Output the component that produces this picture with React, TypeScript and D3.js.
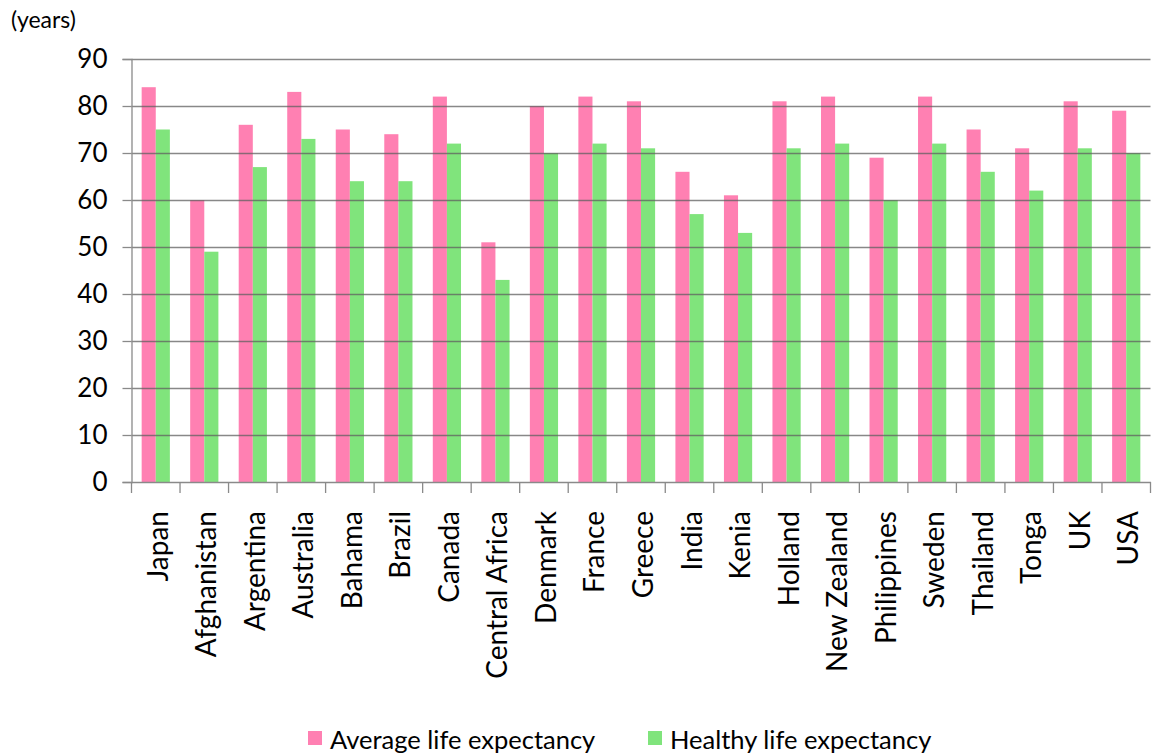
import React from "react";
import * as d3 from "d3";

const countries = [
  "Japan", "Afghanistan", "Argentina", "Australia", "Bahama", "Brazil", "Canada",
  "Central Africa", "Denmark", "France", "Greece", "India", "Kenia", "Holland",
  "New Zealand", "Philippines", "Sweden", "Thailand", "Tonga", "UK", "USA",
];
const averageLife = [84, 60, 76, 83, 75, 74, 82, 51, 80, 82, 81, 66, 61, 81, 82, 69, 82, 75, 71, 81, 79];
const healthyLife = [75, 49, 67, 73, 64, 64, 72, 43, 70, 72, 71, 57, 53, 71, 72, 60, 72, 66, 62, 71, 70];
const seriesNames = ["Average life expectancy", "Healthy life expectancy"];
const seriesColors = ["#ff80b2", "#80e47c"];
const yTicks = [0, 10, 20, 30, 40, 50, 60, 70, 80, 90];

export default function App() {
  const width = 1152;
  const height = 756;
  const left = 131.5;
  const right = 1150.5;
  const top = 59;
  const bottom = 482;
  const font = "Lato, 'Noto Sans', sans-serif";

  const svgRef = React.useRef<SVGSVGElement>(null);

  React.useEffect(() => {
    const svg = d3.select(svgRef.current);

    const xScale = d3.scaleBand<string>().domain(countries).range([left, right]).padding(0);
    const subScale = d3
      .scaleBand<string>()
      .domain(seriesNames)
      .range([0, xScale.bandwidth()])
      .paddingInner(0)
      .paddingOuter(0.72);
    const yScale = d3.scaleLinear().domain([0, 90]).range([bottom, top]);

    // bars
    const rows = countries.map((c, i) => ({ country: c, values: [averageLife[i], healthyLife[i]] }));
    svg
      .select(".bars")
      .selectAll("g")
      .data(rows)
      .join("g")
      .attr("transform", (d) => `translate(${xScale(d.country)},0)`)
      .selectAll("rect")
      .data((d) => d.values.map((v, k) => ({ v, k })))
      .join("rect")
      .attr("x", (d) => subScale(seriesNames[d.k]) as number)
      .attr("width", subScale.bandwidth())
      .attr("y", (d) => yScale(d.v))
      .attr("height", (d) => bottom - yScale(d.v))
      .attr("fill", (d) => seriesColors[d.k]);

    // gridlines over the bars
    svg
      .select(".grid")
      .selectAll("line")
      .data(yTicks.filter((t) => t > 0))
      .join("line")
      .attr("x1", left)
      .attr("x2", right)
      .attr("y1", (d) => Math.round(yScale(d)) + 0.5)
      .attr("y2", (d) => Math.round(yScale(d)) + 0.5)
      .attr("stroke", "#606060")
      .attr("stroke-opacity", 0.75)
      .attr("stroke-width", 1.3);

    const yAxis = d3.axisLeft(yScale).tickValues(yTicks).tickSize(9).tickPadding(15);
    svg
      .select(".y-axis")
      .attr("transform", `translate(${left},0)`)
      .call(yAxis as any)
      .call((g) => g.select(".domain").attr("stroke", "#8a8a8a").attr("stroke-width", 1.3))
      .call((g) => g.selectAll(".tick line").attr("stroke", "#8a8a8a").attr("stroke-width", 1.3))
      .selectAll("text")
      .style("font-family", font)
      .style("font-size", "26px")
      .attr("fill", "#000");

    const xAxis = d3.axisBottom(xScale).tickSize(0).tickFormat(() => "");
    svg
      .select(".x-axis")
      .attr("transform", `translate(0,${bottom})`)
      .call(xAxis as any)
      .call((g) => g.select(".domain").attr("stroke", "#8a8a8a").attr("stroke-width", 1.3));

    // category boundary ticks
    svg
      .select(".x-ticks")
      .selectAll("line")
      .data(d3.range(countries.length + 1))
      .join("line")
      .attr("x1", (i) => left + i * xScale.step())
      .attr("x2", (i) => left + i * xScale.step())
      .attr("y1", bottom)
      .attr("y2", bottom + 11)
      .attr("stroke", "#8a8a8a")
      .attr("stroke-width", 1.3);

    svg
      .select(".x-labels")
      .selectAll("text")
      .data(countries)
      .join("text")
      .attr("transform", (d) => `translate(${(xScale(d) as number) + xScale.bandwidth() / 2 + 1},511) rotate(-90)`)
      .attr("text-anchor", "end")
      .attr("dominant-baseline", "central")
      .style("font-family", font)
      .style("font-size", "28px")
      .attr("fill", "#000")
      .text((d) => d);
  }, []);

  const legendX = [308, 648];

  return (
    <svg
      ref={svgRef}
      width={width}
      height={height}
      style={{ position: "absolute", left: 0, top: 0, background: "#fff" }}
    >
      <rect width={width} height={height} fill="#fff" />
      <g className="bars" />
      <g className="grid" />
      <g className="x-axis" />
      <g className="x-ticks" />
      <g className="y-axis" />
      <g className="x-labels" />
      <text x={11} y={28} style={{ fontFamily: font, fontSize: "23px" }} fill="#000">
        (years)
      </text>
      {seriesNames.map((name, i) => (
        <g key={name}>
          <rect x={legendX[i]} y={731} width={14} height={14} fill={seriesColors[i]} />
          <text
            x={legendX[i] + 22}
            y={739}
            dominantBaseline="central"
            style={{ fontFamily: font, fontSize: "25.5px" }}
            fill="#000"
          >
            {name}
          </text>
        </g>
      ))}
    </svg>
  );
}
